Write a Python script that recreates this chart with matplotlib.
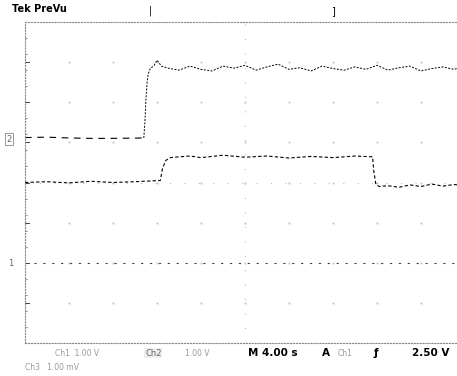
import numpy as np
import matplotlib.pyplot as plt

# scope settings: 10 div x 4 s, 8 vertical div
t_div = 4.0
n_xdiv = 10
n_ydiv = 8

# channel 2 trace (upper), in divisions, time in s
ch2_t = [0, 2, 4, 6, 8, 10.8, 10.9, 11.0, 11.1, 11.2, 11.4, 11.7, 12.0, 12.4, 13.0, 14.0, 15.0, 16.0,
         17.0, 18.0, 19.0, 20.0, 21.0, 22.0, 23.0, 24.0, 25.0, 26.0, 27.0, 28.0, 29.0, 30.0, 31.0,
         32.0, 33.0, 34.0, 35.0, 36.0, 37.0, 38.0, 39.0, 40.0]
ch2_v = [1.12, 1.13, 1.11, 1.10, 1.10, 1.11, 1.50, 2.10, 2.50, 2.70, 2.85, 2.90, 3.05, 2.90, 2.85,
         2.80, 2.90, 2.82, 2.78, 2.90, 2.85, 2.92, 2.80, 2.88, 2.95, 2.82, 2.86, 2.78, 2.90, 2.84,
         2.80, 2.88, 2.82, 2.92, 2.80, 2.86, 2.90, 2.78, 2.84, 2.88, 2.82, 2.90]

# channel 3 trace (middle)
ch3_t = [0, 2, 4, 6, 8, 10, 12.3, 12.5, 12.8, 13.2, 14.0, 15.0, 16.0, 18.0, 20.0, 22.0, 24.0,
         26.0, 28.0, 30.0, 31.6, 31.7, 31.9, 32.2, 33.0, 34.0, 35.0, 36.0, 37.0, 38.0, 39.0, 40.0]
ch3_v = [0.0, 0.02, -0.01, 0.03, 0.0, 0.02, 0.05, 0.35, 0.55, 0.62, 0.64, 0.66, 0.62, 0.68, 0.63,
         0.66, 0.61, 0.65, 0.62, 0.66, 0.64, 0.30, -0.05, -0.10, -0.08, -0.12, -0.06, -0.10, -0.04,
         -0.09, -0.05, -0.08]

# channel 1 trace (flat, ground)
ch1_t = [0, 40]
ch1_v = [-2.0, -2.0]

fig = plt.figure(figsize=(4.57, 3.76), dpi=100)
W, H = 457, 376
# axes box runs off the right edge, like the screen grab
ax = fig.add_axes([25 / W, 1 - 343 / H, 440 / W, 321 / H])
ax.set_xlim(0, n_xdiv * t_div)
ax.set_ylim(-n_ydiv / 2, n_ydiv / 2)
ax.set_xticks([])
ax.set_yticks([])
for s in ax.spines.values():
    s.set_linestyle(':')
    s.set_color('#888888')
    s.set_linewidth(0.8)

# graticule: center lines dotted, grid dots sparse
ax.axvline(20, color='#bbbbbb', ls=(0, (1, 12)), lw=0.8)
ax.axhline(0, color='#bbbbbb', ls=(0, (1, 12)), lw=0.8)
for xv in range(4, 40, 4):
    ax.plot([xv] * 7, range(-3, 4), ls='none', marker='s', ms=0.6, color='#cccccc')
for yv in np.arange(-3.6, 4, 0.4):
    ax.plot([0, 0.15], [yv, yv], color='#777777', lw=0.5)
for yv in range(-3, 4):
    ax.plot([0, 0.35], [yv, yv], color='#444444', lw=0.7)

ax.plot(ch2_t[:6], ch2_v[:6], color='black', lw=0.8, ls=(0, (6, 5)))
ax.plot(ch2_t[5:], ch2_v[5:], color='black', lw=0.7, ls=(0, (2, 1.5)))
ax.plot(ch3_t, ch3_v, color='black', lw=0.8, ls=(0, (3, 2)))
ax.plot(ch1_t, ch1_v, color='#444444', lw=0.8, ls=(0, (2, 6)))

# channel markers on the left
fig.text(6 / W, 1 - 139 / H, '2', fontsize=6, color='#666666', va='center',
         bbox=dict(boxstyle='square,pad=0.15', fc='white', ec='#888888', lw=0.6))
fig.text(8 / W, 1 - 263 / H, '1', fontsize=6, color='#666666', va='center')

# top banner
fig.text(12 / W, 1 - 9 / H, 'Tek PreVu', fontsize=7, fontweight='bold', va='center')
fig.text(150 / W, 1 - 11 / H, '|', fontsize=7, va='center', ha='center')
fig.text(333 / W, 1 - 11 / H, ']', fontsize=7, va='center', ha='center')

# bottom readout
fig.text(55 / W, 1 - 353 / H, 'Ch1  1.00 V', fontsize=5.5, color='#999999', va='center')
fig.text(145 / W, 1 - 353 / H, 'Ch2', fontsize=6, color='#666666', va='center',
         bbox=dict(boxstyle='square,pad=0.1', fc='#eeeeee', ec='none'))
fig.text(185 / W, 1 - 353 / H, '1.00 V', fontsize=5.5, color='#999999', va='center')
fig.text(248 / W, 1 - 353 / H, 'M 4.00 s', fontsize=7.5, fontweight='bold', va='center')
fig.text(322 / W, 1 - 353 / H, 'A', fontsize=7.5, fontweight='bold', va='center')
fig.text(338 / W, 1 - 353 / H, 'Ch1', fontsize=5.5, color='#999999', va='center')
fig.text(374 / W, 1 - 353 / H, 'ƒ', fontsize=7.5, fontweight='bold', va='center')
fig.text(412 / W, 1 - 353 / H, '2.50 V', fontsize=7.5, fontweight='bold', va='center')
fig.text(25 / W, 1 - 368 / H, 'Ch3   1.00 mV', fontsize=5.5, color='#999999', va='center')

fig.savefig('out.png', dpi=100, facecolor='white')
